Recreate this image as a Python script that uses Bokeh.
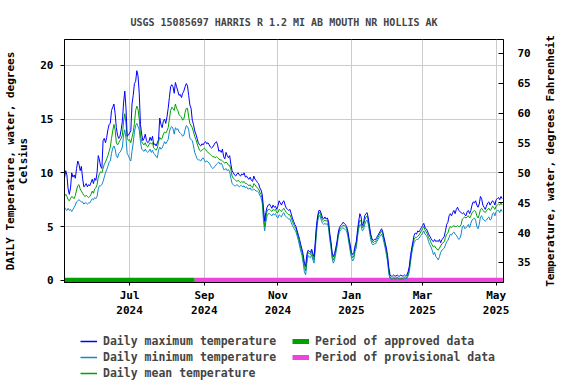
import math
import pandas as pd
from bokeh.plotting import figure
from bokeh.layouts import column, row
from bokeh.models import Range1d, LinearAxis, FixedTicker, Legend, LegendItem, ColumnDataSource, Title
from bokeh.embed import file_html
from bokeh.resources import INLINE

title_text = "USGS 15085697 HARRIS R 1.2 MI AB MOUTH NR HOLLIS AK"
left_label = "DAILY Temperature, water, degrees\nCelsius"
right_label = "Temperature, water, degrees Fahrenheit"
start_date = "2024-05-08"

daily_max = [
    9.5, 10.2, 9.8, 8.5, 8.0, 8.6, 10.0, 9.6, 9.8,
    9.5, 10.4, 11.1, 10.8, 10.2, 10.6,
    9.5, 8.7, 8.8, 9.0, 8.7, 8.9,
    8.8, 9.1, 9.4, 9.0, 9.5, 9.3,
    10.0, 11.6, 11.2, 10.6, 10.4,
    13.0, 13.2, 12.8, 13.3, 14.0,
    14.5, 14.6, 15.8, 16.1, 16.4, 15.5,
    14.2, 13.5, 13.2, 13.4, 14.0,
    14.8, 16.5, 17.6, 16.0, 13.4,
    13.5, 13.7, 13.9, 16.4,
    17.2, 18.3, 18.5, 19.5, 19.0,
    17.4, 14.5, 13.6, 13.0, 13.2,
    13.6, 13.0, 12.8, 12.9, 13.3,
    13.0, 13.4, 12.6, 12.7, 12.5,
    12.8, 13.1, 15.1, 14.5, 14.2,
    14.8, 15.0, 14.6, 15.2, 16.0,
    17.0, 18.0, 18.2, 18.0, 17.4,
    18.4, 18.0, 17.6, 17.2, 17.3,
    17.0, 17.4, 17.6, 18.0, 18.3,
    18.1, 17.2, 16.3, 16.0, 14.9,
    14.5, 13.9, 13.6, 13.2, 12.8,
    12.6, 12.5, 12.7, 12.6, 12.8,
    12.9, 12.7, 12.8, 12.6, 12.4,
    12.3, 12.4, 12.6, 12.8, 12.9,
    12.6, 12.0, 12.1, 11.9, 12.2,
    11.5, 11.3, 11.9, 11.6, 11.4,
    11.6, 10.8, 10.2, 10.0, 9.8,
    9.7, 9.9, 10.0, 9.8, 9.7,
    9.9, 9.8, 10.0, 9.6, 9.7,
    9.5, 9.4, 9.6, 9.3, 9.2,
    9.7, 9.4, 9.3, 9.1, 9.0,
    8.6, 8.4, 8.0, 6.8, 5.5,
    6.3, 6.8, 7.0, 7.1, 6.9,
    6.7, 7.0, 6.8, 6.9, 6.6,
    6.9, 7.4, 7.2, 7.0, 7.3,
    7.4, 7.0, 6.7, 6.6, 6.5,
    6.6, 6.2, 5.8, 5.5, 5.2,
    5.0, 4.6, 4.2, 3.8, 3.3,
    2.9, 2.4, 1.6, 1.3, 2.4,
    2.8, 2.7, 2.6, 2.9, 2.5,
    2.2, 3.6, 5.1, 6.0, 6.5,
    6.5, 6.2, 5.8, 5.7, 5.9,
    5.7, 5.8, 5.5, 4.4, 3.6,
    2.6, 2.2, 2.5, 3.0, 3.6,
    4.4, 4.9, 5.1, 5.2, 5.4,
    5.3, 5.2, 5.0, 4.6, 3.9,
    3.3, 2.6, 2.4, 2.6, 3.2,
    3.6, 4.6, 5.5, 6.2, 5.9,
    5.1, 5.3, 6.0, 6.2, 6.3,
    5.8, 5.0, 4.3, 3.9, 3.7,
    3.8, 3.8, 4.0, 4.2, 4.4,
    4.6, 4.8, 4.5, 4.0, 3.5,
    3.0, 2.3, 1.2, 0.5, 0.4,
    0.4, 0.5, 0.4, 0.4, 0.5, 0.4, 0.4, 0.5, 0.4, 0.4, 0.5, 0.4, 0.5,
    0.8, 1.3, 2.3, 3.0, 3.6,
    4.2, 4.4, 4.3, 4.6, 4.5,
    4.7, 4.9, 5.1, 5.3, 4.9,
    4.8, 4.6, 4.3, 4.1, 3.9,
    3.7, 3.6, 3.8, 3.6, 3.7,
    3.6, 3.8, 3.5, 3.8, 3.9,
    4.1, 4.6, 5.2, 5.4, 6.0,
    6.2, 6.0, 6.3, 6.5, 6.2,
    6.6, 6.8, 6.5, 6.4, 6.3,
    6.2, 6.3, 6.1, 6.0, 6.4,
    6.5, 6.2, 6.5, 7.0, 7.3,
    7.2, 7.4, 7.0, 6.8, 7.1,
    7.8, 7.6, 7.0, 6.8, 6.6,
    6.9, 7.2, 7.3, 7.0, 7.2,
    7.4, 7.3, 7.0, 7.5, 7.6,
    7.7, 7.5, 7.8, 7.6,
]

daily_mean = [
    7.8, 8.0, 7.8, 7.5, 7.4, 7.6, 7.8, 7.7, 7.6,
    7.9, 8.4, 8.8, 8.9, 8.5, 8.3,
    8.1, 7.9, 7.8, 7.9, 7.8, 7.7,
    7.8, 8.0, 8.3, 8.1, 8.5, 8.6,
    8.9, 9.6, 9.9, 10.1, 10.0,
    10.4, 10.8, 11.0, 11.3, 11.6,
    12.0, 12.4, 13.2, 13.9, 14.5, 14.0,
    12.8, 12.6, 12.8, 13.0, 13.2,
    13.5, 14.8, 15.5, 14.6, 13.2,
    13.0, 13.1, 12.8, 13.3,
    13.8, 14.6, 15.8, 16.2, 15.9,
    15.0, 13.5, 12.9, 12.7, 12.6,
    12.8, 12.5, 12.4, 12.6, 12.8,
    12.7, 12.8, 12.3, 12.2, 12.1,
    12.3, 12.9, 13.3, 13.1, 13.2,
    13.6, 13.8, 13.7, 13.9, 14.2,
    15.0, 15.8, 16.1, 16.0, 15.8,
    16.4, 16.0, 15.8, 15.4, 15.3,
    15.2, 14.9, 15.0, 15.6, 16.0,
    16.0, 15.2, 14.6, 14.4, 14.2,
    13.8, 13.4, 13.1, 12.7, 12.4,
    12.1, 12.0, 12.1, 12.2, 12.3,
    12.2, 12.0, 11.9, 11.8, 11.7,
    11.6, 11.5, 11.5, 11.4, 11.5,
    11.4, 11.3, 11.2, 11.2, 11.1,
    11.0, 10.9, 11.0, 10.9, 10.7,
    10.7, 10.3, 9.7, 9.5, 9.4,
    9.3, 9.2, 9.3, 9.2, 9.1,
    9.2, 9.1, 9.2, 9.0, 9.0,
    8.9, 8.8, 8.9, 8.7, 8.6,
    9.0, 8.9, 8.7, 8.6, 8.5,
    8.2, 8.0, 7.6, 6.2, 5.0,
    5.9, 6.4, 6.6, 6.6, 6.5,
    6.4, 6.6, 6.5, 6.6, 6.3,
    6.3, 6.6, 6.5, 6.4, 6.6,
    6.7, 6.5, 6.3, 6.2, 6.1,
    6.1, 5.8, 5.5, 5.2, 5.0,
    4.8, 4.4, 4.0, 3.5, 3.0,
    2.6, 2.0, 1.3, 0.9, 2.0,
    2.6, 2.5, 2.4, 2.7, 2.2,
    1.9, 3.2, 4.8, 5.8, 6.3,
    6.3, 5.9, 5.6, 5.5, 5.6,
    5.5, 5.6, 5.2, 4.1, 3.4,
    2.3, 1.9, 2.2, 2.8, 3.4,
    4.2, 4.7, 4.9, 5.0, 5.1,
    5.1, 5.0, 4.8, 4.4, 3.7,
    3.0, 2.4, 2.1, 2.3, 3.0,
    3.3, 4.3, 5.2, 5.6, 5.5,
    4.9, 5.0, 5.6, 5.9, 6.0,
    5.5, 4.8, 4.1, 3.7, 3.5,
    3.6, 3.6, 3.8, 4.0, 4.2,
    4.4, 4.6, 4.3, 3.8, 3.3,
    2.7, 2.0, 0.9, 0.3, 0.2,
    0.2, 0.3, 0.2, 0.2, 0.3, 0.2, 0.2, 0.2, 0.2, 0.2, 0.3, 0.2, 0.3,
    0.6, 1.1, 2.0, 2.8, 3.4,
    3.8, 4.0, 4.0, 4.1, 4.2,
    4.4, 4.6, 4.8, 5.0, 4.7,
    4.5, 4.3, 4.0, 3.8, 3.5,
    3.3, 3.1, 3.2, 3.0, 2.9,
    2.8, 3.0, 3.2, 3.4, 3.5,
    3.6, 4.0, 4.3, 4.4, 4.8,
    5.0, 4.9, 5.0, 5.1, 5.0,
    5.0, 5.1, 5.0, 5.0, 5.2,
    5.7, 5.8, 5.9, 5.8, 5.9,
    6.0, 5.8, 6.0, 6.3, 6.4,
    6.5, 6.4, 6.0, 5.8, 6.1,
    6.6, 6.7, 6.5, 6.4, 6.3,
    6.5, 6.6, 6.7, 6.5, 6.6,
    6.9, 6.8, 6.6, 6.9, 7.0,
    7.1, 7.0, 7.2, 7.0,
]

daily_min = [
    6.8, 6.6, 6.5, 6.7, 6.5, 6.6, 6.4, 6.6, 6.8,
    7.0, 7.3, 7.4, 7.5, 7.4, 7.3,
    7.3, 7.1, 7.2, 7.2, 7.1, 7.2,
    7.2, 7.4, 7.6, 7.5, 7.7, 7.6,
    7.8, 8.5, 8.8, 8.8, 8.9,
    9.2, 9.6, 10.0, 10.3, 10.6,
    11.0, 11.1, 11.8, 12.3, 12.5, 12.2,
    11.6, 11.4, 11.8, 11.9, 12.1,
    12.4, 13.5, 14.0, 13.2, 11.8,
    11.6, 11.3, 11.1, 12.0,
    12.8, 13.8, 14.4, 14.6, 14.3,
    14.0, 12.9, 12.2, 12.1, 12.0,
    12.2, 12.0, 11.9, 12.0, 12.2,
    11.9, 12.1, 11.8, 11.7, 11.5,
    11.4, 12.1, 12.4, 12.2, 12.3,
    12.6, 12.9, 12.7, 12.9, 13.1,
    13.8, 14.2, 14.3, 14.1, 13.6,
    14.2, 14.0, 14.1, 13.8, 13.7,
    13.6, 13.4, 13.5, 14.0, 14.4,
    14.3, 14.0, 13.2, 13.1, 13.0,
    12.5, 11.9, 11.6, 11.3, 11.2,
    11.2, 11.1, 11.3, 11.4, 11.2,
    11.0, 11.1, 11.0, 10.9, 10.7,
    10.5, 10.4, 10.5, 10.6, 10.8,
    10.9, 11.0, 10.8, 10.9, 10.7,
    10.3, 10.3, 10.4, 10.2, 10.3,
    10.1, 9.5, 9.0, 8.9, 8.8,
    8.8, 8.9, 8.8, 8.7, 8.8,
    8.8, 8.7, 8.8, 8.6, 8.7,
    8.5, 8.5, 8.6, 8.4, 8.4,
    8.5, 8.4, 8.3, 8.3, 8.2,
    7.9, 7.7, 7.2, 5.6, 4.6,
    5.4, 6.0, 6.2, 6.2, 6.1,
    6.0, 6.2, 6.1, 6.2, 5.9,
    5.8, 6.1, 6.0, 5.9, 6.2,
    6.3, 6.0, 5.9, 5.8, 5.7,
    5.7, 5.4, 5.1, 4.9, 4.7,
    4.5, 4.1, 3.7, 3.2, 2.7,
    2.3, 1.6, 0.8, 0.5, 1.6,
    2.3, 2.2, 2.1, 2.4, 1.9,
    1.6, 2.9, 4.4, 5.5, 6.0,
    6.0, 5.6, 5.3, 5.2, 5.3,
    5.2, 5.3, 4.9, 3.8, 3.1,
    2.0, 1.6, 1.9, 2.5, 3.1,
    4.0, 4.5, 4.7, 4.8, 4.9,
    4.8, 4.7, 4.6, 4.1, 3.4,
    2.7, 2.1, 1.8, 2.0, 2.7,
    3.0, 4.0, 4.8, 5.2, 5.1,
    4.6, 4.7, 5.2, 5.5, 5.6,
    5.2, 4.5, 3.8, 3.4, 3.3,
    3.4, 3.4, 3.6, 3.8, 4.0,
    4.1, 4.3, 4.0, 3.5, 3.0,
    2.4, 1.7, 0.6, 0.2, 0.1,
    0.1, 0.2, 0.1, 0.1, 0.2, 0.1, 0.1, 0.1, 0.1, 0.1, 0.2, 0.1, 0.2,
    0.4, 0.8, 1.7, 2.5, 3.1,
    3.5, 3.7, 3.8, 3.8, 3.9,
    4.1, 4.2, 4.4, 4.6, 4.3,
    4.2, 4.0, 3.6, 3.3, 3.1,
    2.8, 2.4, 2.6, 2.2, 2.1,
    1.9, 2.2, 2.6, 2.8, 2.9,
    3.0, 3.3, 3.6, 3.7, 4.0,
    4.3, 4.2, 4.4, 4.5, 4.3,
    4.2, 4.0, 3.8, 3.9, 4.3,
    5.0, 5.1, 4.8, 4.9, 5.0,
    5.2, 4.9, 5.3, 5.6, 5.7,
    5.8, 5.6, 5.0, 4.8, 5.2,
    5.9, 6.0, 5.7, 5.6, 5.5,
    5.6, 5.8, 5.9, 5.6, 5.7,
    6.2, 6.3, 6.0, 6.4, 6.5,
    6.5, 6.3, 6.6, 6.4,
]

approved_period = ["2024-05-05", "2024-08-24"]
provisional_period = ["2024-08-24", "2025-05-10"]

x_tick_dates = ["2024-07-01", "2024-09-01", "2024-11-01", "2025-01-01", "2025-03-01", "2025-05-01"]
x_tick_labels = ["Jul\n2024", "Sep\n2024", "Nov\n2024", "Jan\n2025", "Mar\n2025", "May\n2025"]
celsius_ticks = [0, 5, 10, 15, 20]
fahrenheit_ticks = [35, 40, 45, 50, 55, 60, 65, 70]

legend_labels = ["Daily maximum temperature", "Daily minimum temperature", "Daily mean temperature",
                 "Period of approved data", "Period of provisional data"]

FONT = "DejaVu Sans Mono"
C_MAX = "#0000ff"
C_MIN = "#1188cc"
C_MEAN = "#00a000"
C_APPR = "#00a000"
C_PROV = "#ee44dd"

y_lo, y_hi = -0.2, 22.4
MAIN_W, MAIN_H = 541, 320

def dates(n):
    return pd.date_range(start_date, periods=n, freq="D")

src_max = ColumnDataSource(dict(x=dates(len(daily_max)), y=daily_max))
src_min = ColumnDataSource(dict(x=dates(len(daily_min)), y=daily_min))
src_mean = ColumnDataSource(dict(x=dates(len(daily_mean)), y=daily_mean))

p = figure(width=MAIN_W, height=MAIN_H, x_axis_type="datetime",
           output_backend="svg", toolbar_location=None,
           x_range=Range1d(pd.Timestamp("2024-05-08"), pd.Timestamp("2025-05-07 03:00")),
           y_range=Range1d(y_lo, y_hi),
           min_border_left=64, min_border_right=38, min_border_top=39, min_border_bottom=37)
p.extra_y_ranges = {"F": Range1d(y_lo * 1.8 + 32, y_hi * 1.8 + 32)}

p.title.text = title_text
p.title.align = "center"
p.title.text_font = FONT
p.title.text_font_style = "bold"
p.title.text_font_size = "10px"
p.title.standoff = 24

p.outline_line_color = "black"
p.outline_line_width = 1
p.background_fill_color = "white"
p.border_fill_color = "white"

p.xgrid.grid_line_color = "#cccccc"
p.ygrid.grid_line_color = "#cccccc"

tick_ms = [pd.Timestamp(d).value // 10**6 for d in x_tick_dates]
p.xaxis.ticker = FixedTicker(ticks=tick_ms)
p.xaxis.major_label_overrides = {t: lab for t, lab in zip(tick_ms, x_tick_labels)}
p.xaxis.minor_tick_line_color = None
p.xaxis.major_tick_in = 0
p.xaxis.major_tick_out = 3
p.xaxis.major_label_standoff = 3

p.yaxis.ticker = FixedTicker(ticks=celsius_ticks)
p.yaxis.minor_tick_line_color = None
p.yaxis.major_tick_in = 0
p.yaxis.major_tick_out = 4
p.yaxis.major_label_standoff = 7
p.yaxis.axis_label = left_label
p.yaxis.axis_label_standoff = 7
p.yaxis.axis_label_text_line_height = 1.0

right = LinearAxis(y_range_name="F", ticker=FixedTicker(ticks=fahrenheit_ticks))
right.minor_tick_line_color = None
right.major_tick_in = 5
right.major_tick_out = 0
right.major_label_standoff = 14
p.add_layout(right, "right")

for ax in [p.xaxis[0], p.yaxis[0], right]:
    ax.axis_line_color = "black"
    ax.major_tick_line_color = "black"
    ax.major_label_text_font = FONT
    ax.major_label_text_font_style = "bold"
    ax.major_label_text_font_size = "11px"
    ax.major_label_text_color = "black"
    ax.axis_label_text_font = FONT
    ax.axis_label_text_font_style = "bold"
    ax.axis_label_text_font_size = "11px"
    ax.axis_label_text_color = "black"

p.line(x=pd.to_datetime(approved_period), y=[0, 0], line_color=C_APPR, line_width=5)
p.line(x=pd.to_datetime(provisional_period), y=[0, 0], line_color=C_PROV, line_width=5)
p.line("x", "y", source=src_min, line_color=C_MIN, line_width=1)
p.line("x", "y", source=src_mean, line_color=C_MEAN, line_width=1)
p.line("x", "y", source=src_max, line_color=C_MAX, line_width=1)

# right-hand axis title (reads bottom to top, like a left-side title)
pr = figure(width=576 - MAIN_W, height=MAIN_H, output_backend="svg", toolbar_location=None,
            x_range=Range1d(0, 1), y_range=Range1d(0, 1), min_border=0,
            x_axis_location=None, y_axis_location=None)
pr.grid.visible = False
pr.outline_line_color = None
pr.title = None
pr.add_layout(Title(text=right_label, align="center", standoff=0,
                    text_font=FONT, text_font_style="bold", text_font_size="11px",
                    text_color="black"), "left")

# legend panel
pl = figure(width=576, height=384 - MAIN_H, output_backend="svg", toolbar_location=None,
            x_range=Range1d(0, 1), y_range=Range1d(0, 1), min_border=0,
            x_axis_location=None, y_axis_location=None)
pl.grid.visible = False
pl.outline_line_color = None
lg_colors = [C_MAX, C_MIN, C_MEAN, C_APPR, C_PROV]
lg_widths = [1.5, 1.5, 1.5, 5, 5]
items = []
for lab, col, w in zip(legend_labels, lg_colors, lg_widths):
    r = pl.line(x=[5, 6], y=[5, 6], line_color=col, line_width=w)
    items.append(LegendItem(label=lab, renderers=[r]))
legend = Legend(items=items, location=(80, 3), orientation="vertical", nrows=3)
legend.padding = 0
legend.margin = 0
legend.spacing = 0
legend.border_line_color = None
legend.background_fill_alpha = 0
legend.glyph_width = 17
legend.glyph_height = 16
legend.label_height = 16
legend.label_width = 189
legend.label_standoff = 6
legend.label_text_font = FONT
legend.label_text_font_style = "bold"
legend.label_text_font_size = "11.5px"
legend.label_text_baseline = "middle"
pl.add_layout(legend, "center")

layout = column(row(p, pr), pl)
open("out.html", "w").write(file_html(layout, INLINE))
